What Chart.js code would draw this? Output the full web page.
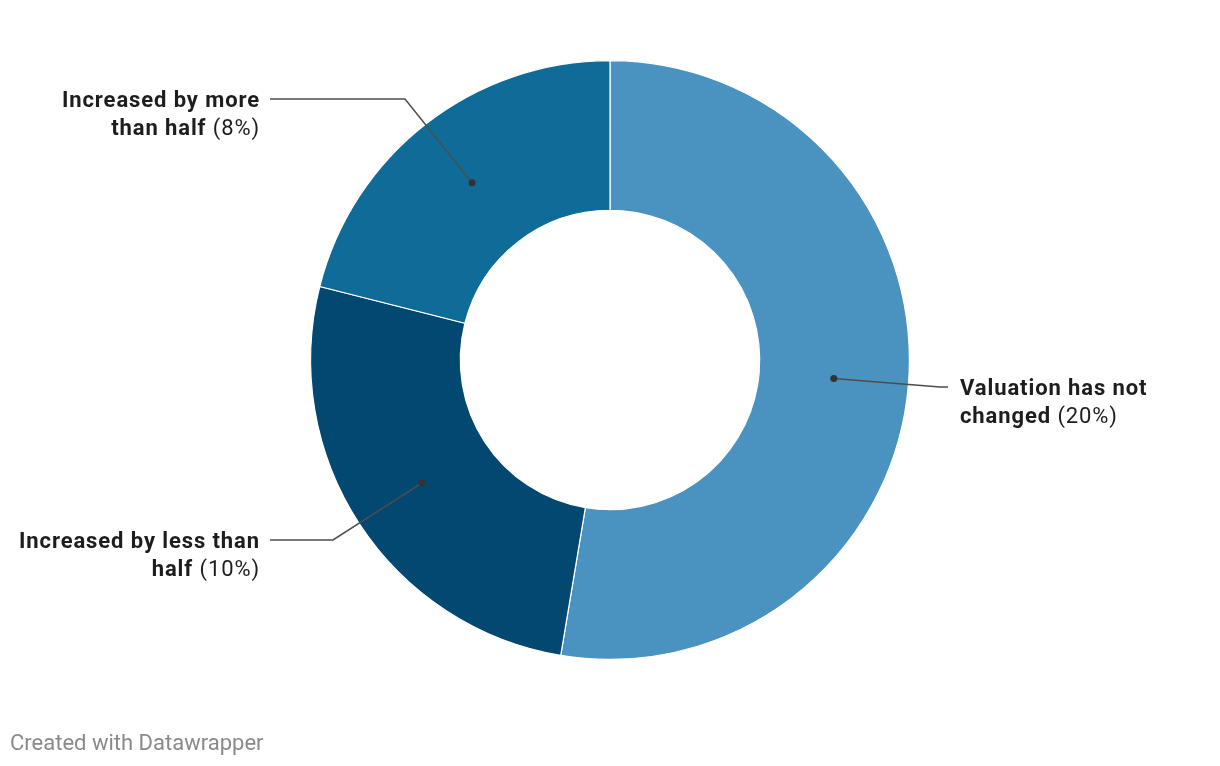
<!DOCTYPE html>
<html>
<head>
<meta charset="utf-8">
<script src="https://cdn.jsdelivr.net/npm/chart.js@4"></script>
<style>
  html, body { margin: 0; padding: 0; background: #fff; }
  #wrap { position: relative; width: 1220px; height: 766px; }
  #footer {
    position: absolute; left: 10px; top: 730px;
    font-family: Roboto, sans-serif; font-size: 22px; color: #8a8a8a;
  }
</style>
</head>
<body>
<div id="wrap">
  <canvas id="donut" width="1220" height="766"></canvas>
  <div id="footer">Created with Datawrapper</div>
</div>
<script>
// Data
const categories = ['Valuation has not changed', 'Increased by less than half', 'Increased by more than half'];
const shares = [20, 10, 8];
const sliceColors = ['#4a92c0', '#024870', '#0f6b98'];

// label text: bold lines, the last one followed by the value in normal weight
const labelLines = [
    ['Valuation has not', 'changed'],
    ['Increased by less than', 'half'],
    ['Increased by more', 'than half']
];

// where each leader line bends (offset from donut centre) and which side the text sits
const labelPlacement = [
    { side: 'right', elbowX: 330, elbowY: 27, endX: 338 },
    { side: 'left', elbowX: -277, elbowY: 180, endX: -340 },
    { side: 'left', elbowX: -205, elbowY: -261, endX: -340 }
];

const leaderLabels = {
    id: 'leaderLabels',
    afterDraw(chart) {
        const ctx = chart.ctx;
        const meta = chart.getDatasetMeta(0);
        meta.data.forEach((arc, i) => {
            const p = arc.getProps(['x', 'y', 'startAngle', 'endAngle', 'innerRadius', 'outerRadius'], true);
            const mid = (p.startAngle + p.endAngle) / 2;
            const r = (p.innerRadius + p.outerRadius) / 2;
            const dx = p.x + Math.cos(mid) * r;
            const dy = p.y + Math.sin(mid) * r;
            const place = labelPlacement[i];
            const ex = p.x + place.elbowX;
            const ey = p.y + place.elbowY;
            const lx = p.x + place.endX;

            ctx.save();
            ctx.strokeStyle = '#4d4d4d';
            ctx.lineWidth = 1.5;
            ctx.beginPath();
            ctx.moveTo(dx, dy);
            ctx.lineTo(ex, ey);
            ctx.lineTo(lx, ey);
            ctx.stroke();
            ctx.fillStyle = '#333';
            ctx.beginPath();
            ctx.arc(dx, dy, 3.5, 0, Math.PI * 2);
            ctx.fill();

            const bold = '700 22px Roboto, sans-serif';
            const normal = '400 22px Roboto, sans-serif';
            ctx.letterSpacing = '0.9px';
            const lines = labelLines[i];
            const value = ' (' + shares[i] + '%)';
            ctx.fillStyle = '#1d1d1d';
            ctx.textBaseline = 'middle';
            lines.forEach((txt, k) => {
                const y = ey + 2 + k * 28;
                const last = k === lines.length - 1;
                ctx.font = bold;
                const wb = ctx.measureText(txt).width;
                ctx.font = normal;
                const wn = last ? ctx.measureText(value).width : 0;
                let x = place.side === 'right' ? lx + 12 : lx - 10 - wb - wn;
                ctx.textAlign = 'left';
                ctx.font = bold;
                ctx.fillText(txt, x, y);
                if (last) {
                    ctx.font = normal;
                    ctx.fillText(value, x + wb, y);
                }
            });
            ctx.restore();
        });
    }
};

document.addEventListener('DOMContentLoaded', function () {
    new Chart(document.getElementById('donut'), {
        type: 'doughnut',
        data: {
            labels: categories,
            datasets: [{
                data: shares,
                backgroundColor: sliceColors,
                borderColor: '#ffffff',
                borderWidth: 1.2,
                hoverOffset: 0
            }]
        },
        options: {
            responsive: false,
            animation: false,
            cutout: '50%',
            layout: { padding: { top: 60, bottom: 106, left: 0, right: 0 } },
            plugins: {
                legend: { display: false },
                tooltip: { enabled: false }
            }
        },
        plugins: [leaderLabels]
    });
});
</script>
</body>
</html>
